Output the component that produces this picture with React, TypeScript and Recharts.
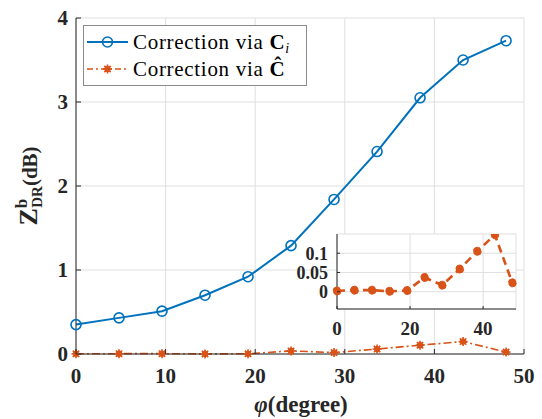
import React from 'react';
import { CartesianGrid, Legend, Line, LineChart, XAxis, YAxis } from 'recharts';

const phi = [0, 4.8, 9.6, 14.4, 19.2, 24, 28.8, 33.6, 38.4, 43.2, 48];
const viaCi = [0.35, 0.43, 0.51, 0.7, 0.92, 1.29, 1.84, 2.41, 3.05, 3.5, 3.73];
const viaChat = [0.002, 0.004, 0.004, 0.001, 0.003, 0.037, 0.017, 0.059, 0.105, 0.148, 0.023];

const xTicks = [0, 10, 20, 30, 40, 50];
const yTicks = [0, 1, 2, 3, 4];
const insetXTicks = [0, 20, 40];
const insetYTicks = [0, 0.05, 0.1];

const data = phi.map((p, i) => ({ phi: p, ci: viaCi[i], chat: viaChat[i] }));

const BLUE = '#0072BD';
const ORANGE = '#D95319';
const INK = '#262626';
const GRID = '#dfdfdf';
const FONT = 'Liberation Serif, Times New Roman, serif';
const serif = { fontFamily: FONT };

// MATLAB style ticks: drawn inward, labels placed by hand
function makeTick(side: string, fontSize: number, gap: number, len: number, label = true) {
    return (props: any) => {
        const { x, y, payload } = props;
        const v = String(payload.value);
        let l = [x, y, x, y];
        let t = null;
        if (side === 'bottom') {
            l = [x, y, x, y - len];
            if (label) t = <text x={x} y={y + gap} textAnchor="middle">{v}</text>;
        } else if (side === 'top') {
            l = [x, y, x, y + len];
        } else if (side === 'left') {
            l = [x, y, x + len, y];
            if (label) t = <text x={x - gap} y={y} dy="0.35em" textAnchor="end">{v}</text>;
        } else {
            l = [x, y, x - len, y];
        }
        return (
            <g style={serif} fontWeight="bold" fontSize={fontSize} fill={INK}>
                <line x1={l[0]} y1={l[1]} x2={l[2]} y2={l[3]} stroke={INK} strokeWidth={1} />
                {t}
            </g>
        );
    };
}

const Asterisk = (props: any) => {
    const { cx, cy } = props;
    if (cx == null || cy == null) return null;
    const r = 4.5;
    const d = r * 0.707;
    return (
        <g stroke={ORANGE} strokeWidth={1.6}>
            <line x1={cx - r} y1={cy} x2={cx + r} y2={cy} />
            <line x1={cx} y1={cy - r} x2={cx} y2={cy + r} />
            <line x1={cx - d} y1={cy - d} x2={cx + d} y2={cy + d} />
            <line x1={cx - d} y1={cy + d} x2={cx + d} y2={cy - d} />
            <circle cx={cx} cy={cy} r={2.3} fill={ORANGE} />
        </g>
    );
};

const LegendBox = () => (
    <svg width={224} height={61} style={{ display: 'block' }}>
        <rect x={0.5} y={0.5} width={223} height={60} fill="#fff" stroke="#8c8c8c" />
        <line x1={4} y1={17} x2={45} y2={17} stroke={BLUE} strokeWidth={2} />
        <circle cx={24.5} cy={17} r={5} fill="none" stroke={BLUE} strokeWidth={1.6} />
        <line x1={4} y1={44} x2={45} y2={44} stroke={ORANGE} strokeWidth={1.6} strokeDasharray="6 3 2 3" />
        <Asterisk cx={24.5} cy={44} />
        <text x={50} y={24} style={{ ...serif, letterSpacing: 0.7 }} fontSize={21} fill="#000">
            Correction via <tspan fontWeight="bold">C</tspan>
            <tspan fontStyle="italic" fontSize={14} dy={4}>i</tspan>
        </text>
        <text x={50} y={51} style={{ ...serif, letterSpacing: 0.7 }} fontSize={21} fill="#000">
            Correction via <tspan fontWeight="bold">Ĉ</tspan>
        </text>
    </svg>
);

export default function App() {
    return (
        <div style={{ position: 'absolute', left: 0, top: 0, width: 542, height: 419, background: '#fff', fontFamily: FONT }}>
            <LineChart width={542} height={419} data={data} margin={{ top: 18, right: 18, bottom: 0, left: 0 }}>
                <CartesianGrid stroke={GRID} />
                <XAxis dataKey="phi" type="number" domain={[0, 50]} ticks={xTicks} interval={0}
                    height={65} tickSize={0} tickMargin={0} stroke={INK}
                    tick={makeTick('bottom', 21, 29, 5)} />
                <XAxis xAxisId="top" orientation="top" dataKey="phi" type="number" domain={[0, 50]}
                    ticks={xTicks} interval={0} height={0} tickSize={0} tickMargin={0} stroke={INK}
                    tick={makeTick('top', 21, 0, 5, false)} />
                <YAxis type="number" domain={[0, 4]} ticks={yTicks} interval={0} width={76}
                    tickSize={0} tickMargin={0} stroke={INK} tick={makeTick('left', 21, 8, 5)} />
                <YAxis yAxisId="right" orientation="right" type="number" domain={[0, 4]} ticks={yTicks}
                    interval={0} width={0} tickSize={0} tickMargin={0} stroke={INK}
                    tick={makeTick('right', 21, 0, 5, false)} />
                <Line dataKey="ci" stroke={BLUE} strokeWidth={2}
                    dot={{ r: 5, fill: 'none', stroke: BLUE, strokeWidth: 1.6 }} isAnimationActive={false} />
                <Line dataKey="chat" stroke={ORANGE} strokeWidth={1.6} strokeDasharray="8 3 2 3"
                    dot={<Asterisk />} isAnimationActive={false} />
                <Legend layout="vertical" align="center" verticalAlign="middle" content={() => <LegendBox />}
                    wrapperStyle={{ position: 'absolute', left: 83, top: 25, width: 224, height: 61 }} />
            </LineChart>

            <div style={{ position: 'absolute', left: 280, top: 225 }}>
                <LineChart width={250} height={125} data={data} margin={{ top: 9, right: 14, bottom: 0, left: 0 }}>
                    <CartesianGrid stroke={GRID} fill="#fff" />
                    <XAxis dataKey="phi" type="number" domain={[0, 49]} ticks={insetXTicks} interval={0}
                        height={41} tickSize={0} tickMargin={0} stroke={INK}
                        tick={makeTick('bottom', 19, 26, 3)} />
                    <XAxis xAxisId="top" orientation="top" dataKey="phi" type="number" domain={[0, 49]}
                        ticks={insetXTicks} interval={0} height={0} tickSize={0} tickMargin={0} stroke={INK}
                        tick={makeTick('top', 19, 0, 3, false)} />
                    <YAxis type="number" domain={[-0.045, 0.15]} ticks={insetYTicks} interval={0} width={57}
                        tickSize={0} tickMargin={0} stroke={INK} tick={makeTick('left', 18, 9, 3)}
                        allowDataOverflow />
                    <YAxis yAxisId="right" orientation="right" type="number" domain={[-0.045, 0.15]}
                        ticks={insetYTicks} interval={0} width={0} tickSize={0} tickMargin={0} stroke={INK}
                        tick={makeTick('right', 18, 0, 3, false)} allowDataOverflow />
                    <Line dataKey="chat" stroke={ORANGE} strokeWidth={2.6} strokeDasharray="8 5"
                        dot={{ r: 4, fill: ORANGE, stroke: ORANGE, strokeWidth: 1 }} isAnimationActive={false} />
                </LineChart>
            </div>

            <svg width={542} height={419} style={{ position: 'absolute', left: 0, top: 0, pointerEvents: 'none' }}>
                <text x={301} y={412} textAnchor="middle" style={serif} fontWeight="bold" fontSize={23} fill={INK}>
                    <tspan fontStyle="italic">φ</tspan>(degree)
                </text>
                <g transform="translate(37,186) rotate(-90)">
                    <text x={0} y={0} textAnchor="middle" style={serif} fontWeight="bold" fill={INK}>
                        <tspan fontSize={26}>Z</tspan>
                        <tspan fontSize={17} dy={-10}>b</tspan>
                        <tspan fontSize={15} dx={-9} dy={15}>DR</tspan>
                        <tspan fontSize={21} dy={-5}>(dB)</tspan>
                    </text>
                </g>
            </svg>
        </div>
    );
}
